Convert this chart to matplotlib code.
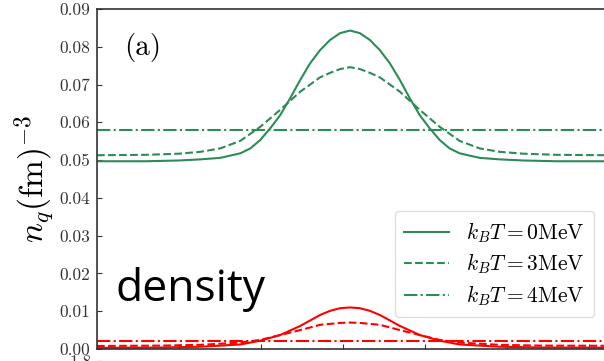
import matplotlib
matplotlib.use("Agg")
import matplotlib.pyplot as plt

plt.rcParams['mathtext.fontset'] = 'cm'

# ---- data ----
xg_solid = [-15, -12, -10, -8.69, -7.48, -6.26, -5.65, -5.05, -4.44, -3.83, -3.22, -2.61, -2.01, -1.40,
            -0.79, -0.18, 0.43, 1.03, 1.64, 2.25, 2.86, 3.47, 4.07, 4.68, 5.29, 5.90, 6.50, 7.11,
            8.33, 9.54, 11, 13, 16, 20]
yg_solid = [0.0497, 0.0497, 0.0499, 0.0502, 0.0506, 0.0518, 0.0531, 0.0553, 0.0584, 0.0619, 0.0664, 0.0712, 0.0756, 0.0791,
            0.0818, 0.0836, 0.0843, 0.0836, 0.0818, 0.0791, 0.0756, 0.0712, 0.0664, 0.0619, 0.0584, 0.0553, 0.0531, 0.0518,
            0.0506, 0.0502, 0.0499, 0.0497, 0.0497, 0.0497]

xg_dash = [-15, -12, -10, -8.69, -7.48, -6.26, -5.05, -3.83, -2.61, -1.40, -0.79, -0.18, 0.43,
           1.03, 1.64, 2.25, 3.47, 4.68, 5.90, 7.11, 8.33, 9.54, 11, 13, 16, 20]
yg_dash = [0.0513, 0.0514, 0.0517, 0.0522, 0.0531, 0.0551, 0.0588, 0.0633, 0.0681, 0.0719, 0.0731, 0.0741, 0.0746,
           0.0741, 0.0731, 0.0719, 0.0681, 0.0633, 0.0588, 0.0551, 0.0531, 0.0522, 0.0517, 0.0514, 0.0513, 0.0513]

xg_dd = [-15, 20]
yg_dd = [0.0580, 0.0580]

xr_solid = [-15, -11, -8.69, -6.26, -5.05, -3.83, -2.61, -1.40, -0.79, -0.18, 0.43,
            1.03, 1.64, 2.25, 3.47, 4.68, 5.90, 7.11, 9.54, 12, 20]
yr_solid = [0.0003, 0.0004, 0.0006, 0.0012, 0.0022, 0.0037, 0.0061, 0.0090, 0.0101, 0.0108, 0.0110,
            0.0108, 0.0101, 0.0090, 0.0061, 0.0037, 0.0022, 0.0012, 0.0006, 0.0004, 0.0003]

xr_dash = [-15, -11, -8.69, -6.26, -5.05, -3.83, -2.61, -1.40, -0.18, 0.43,
           1.03, 2.25, 3.47, 4.68, 5.90, 7.11, 9.54, 12, 20]
yr_dash = [0.0008, 0.0009, 0.0011, 0.0017, 0.0024, 0.0037, 0.0050, 0.0064, 0.0069, 0.0070,
           0.0069, 0.0064, 0.0050, 0.0037, 0.0024, 0.0017, 0.0011, 0.0009, 0.0008]

xr_dd = [-15, 20]
yr_dd = [0.0021, 0.0021]

yticks = [0.00, 0.01, 0.02, 0.03, 0.04, 0.05, 0.06, 0.07, 0.08, 0.09]
xticks = [-15, -10, -5, 0, 5, 10, 15]
legend_labels = [r'$k_BT=0\mathrm{MeV}$', r'$k_BT=3\mathrm{MeV}$', r'$k_BT=4\mathrm{MeV}$']

W, H = 604, 361
fig = plt.figure(figsize=(W / 100, H / 100), dpi=100)

# main axes (extends beyond the right edge, as in the cropped reference)
left, right, top, bottom = 97, 671, 9, 349
ax = fig.add_axes([left / W, 1 - bottom / H, (right - left) / W, (bottom - top) / H])

green = '#2e8b57'
ax.plot(xg_solid, yg_solid, color=green, lw=1.5, ls='-', label=legend_labels[0])
ax.plot(xg_dash, yg_dash, color=green, lw=1.5, ls='--', label=legend_labels[1])
ax.plot(xg_dd, yg_dd, color=green, lw=1.5, ls='-.', label=legend_labels[2])
ax.plot(xr_solid, yr_solid, color='red', lw=1.5, ls='-')
ax.plot(xr_dash, yr_dash, color='red', lw=1.5, ls='--')
ax.plot(xr_dd, yr_dd, color='red', lw=1.5, ls='-.')

ax.set_xlim(-15, 20)
ax.set_ylim(0, 0.09)
ax.set_yticks(yticks)
ax.set_yticklabels([f'{v:.2f}' for v in yticks], fontfamily='cmr10', fontsize=12.5, color='#333333')
ax.set_xticks(xticks)
ax.set_xticklabels([])
ax.tick_params(direction='in', length=3.5, width=0.8, colors='#333333', labelcolor='#333333')
ax.tick_params(axis='y', pad=5)
for s in ax.spines.values():
    s.set_color('#333333')
    s.set_linewidth(1.2)

ax.set_ylabel(r'$n_q(\mathrm{fm})^{-3}$', fontsize=24, labelpad=2)

ax.text(124 / W, 1 - 47 / H, '(a)', transform=fig.transFigure, fontfamily='cmr10',
        fontsize=21, va='center', ha='left')
ax.text(116 / W, 1 - 289 / H, 'density', transform=fig.transFigure, fontfamily='Open Sans',
        fontsize=32, va='center', ha='left')

leg = ax.legend(loc='lower right', bbox_to_anchor=(594 / W, 1 - 317 / H),
                bbox_transform=fig.transFigure, fontsize=15.5, frameon=True,
                fancybox=True, framealpha=1, edgecolor='#dddddd',
                handlelength=2.1, handletextpad=0.8, labelspacing=0.32,
                borderpad=0.42, borderaxespad=0)

# partially visible lower panel (cropped in the reference)
ax2 = fig.add_axes([left / W, -0.5, (right - left) / W, 0.5 + (1 - 361 / H)])
ax2.set_ylim(0, 1.8)
ax2.set_yticks([1.8])
ax2.set_yticklabels(['1.8'], fontfamily='cmr10', fontsize=12.5, color='#333333')
ax2.set_xticks([])
ax2.tick_params(direction='in', length=3.5, colors='#333333')
for s in ax2.spines.values():
    s.set_color('#cccccc')

fig.savefig('out.png', dpi=100)
